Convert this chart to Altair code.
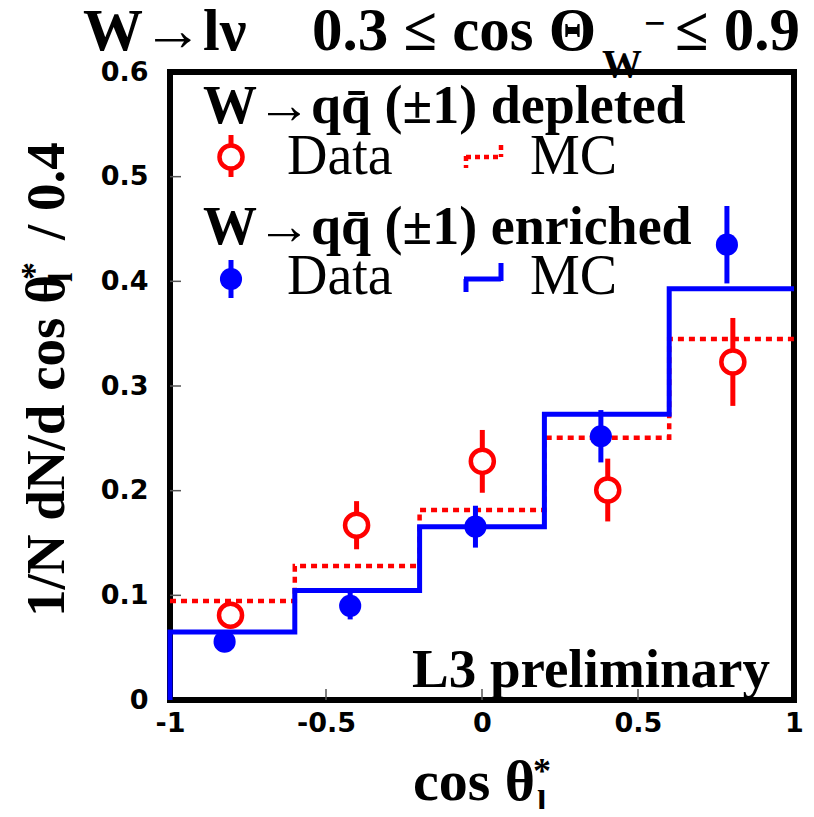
import altair as alt
import pandas as pd

# ---- data ----
bin_edges = [-1.0, -0.6, -0.2, 0.2, 0.6, 1.0]
mc_enriched = [0.065, 0.1045, 0.1656, 0.273, 0.393]
mc_depleted = [0.0946, 0.128, 0.1815, 0.2506, 0.345]

dep_x = [-0.806, -0.402, 0.001, 0.403, 0.804]
dep_y = [0.081, 0.167, 0.228, 0.2006, 0.323]
dep_err = [0.012, 0.023, 0.030, 0.030, 0.042]

enr_x = [-0.825, -0.4225, -0.021, 0.381, 0.785]
enr_y = [0.0557, 0.090, 0.1656, 0.252, 0.435]
enr_err = [0.006, 0.013, 0.020, 0.025, 0.037]

y_ticks = [0.1, 0.2, 0.3, 0.4, 0.5]
x_ticks = [-0.5, 0.0, 0.5]

RED = "#ff0000"
BLUE = "#0000ff"
SERIF = "Liberation Serif"

xs = alt.Scale(domain=[-1, 1], nice=False, zero=False)
ys = alt.Scale(domain=[0, 0.6], nice=False, zero=False)

lab_expr = "datum.value < 0 ? '-' + format(-datum.value, '~g') : format(datum.value, '~g')"
x_axis = alt.Axis(values=[-1, -0.5, 0, 0.5, 1], labelExpr=lab_expr, title=None, labelPadding=10,
                  labelFlush=False)
y_axis = alt.Axis(values=[0, 0.1, 0.2, 0.3, 0.4, 0.5, 0.6], labelExpr=lab_expr, title=None,
                  labelPadding=22, labelFlush=False)

# step histograms
enr_df = pd.DataFrame({
    "i": list(range(len(bin_edges) + 1)),
    "x": [bin_edges[0]] + bin_edges,
    "y": [0.0] + mc_enriched + [mc_enriched[-1]],
})
dep_df = pd.DataFrame({
    "i": list(range(len(bin_edges))),
    "x": bin_edges,
    "y": mc_depleted + [mc_depleted[-1]],
})

enr_line = alt.Chart(enr_df).mark_line(interpolate="step-after", color=BLUE, strokeWidth=5).encode(
    x=alt.X("x:Q", scale=xs, axis=x_axis),
    y=alt.Y("y:Q", scale=ys, axis=y_axis),
    order="i:Q",
)
dep_line = alt.Chart(dep_df).mark_line(interpolate="step-after", color=RED, strokeWidth=4.5,
                                       strokeDash=[6, 5]).encode(
    x=alt.X("x:Q", scale=xs), y=alt.Y("y:Q", scale=ys), order="i:Q",
)

dep_pts = pd.DataFrame({"x": dep_x, "y": dep_y,
                        "lo": [a - b for a, b in zip(dep_y, dep_err)],
                        "hi": [a + b for a, b in zip(dep_y, dep_err)]})
enr_pts = pd.DataFrame({"x": enr_x, "y": enr_y,
                        "lo": [a - b for a, b in zip(enr_y, enr_err)],
                        "hi": [a + b for a, b in zip(enr_y, enr_err)]})

dep_bar = alt.Chart(dep_pts).mark_rule(color=RED, strokeWidth=5).encode(
    x=alt.X("x:Q", scale=xs), y=alt.Y("lo:Q", scale=ys), y2="hi:Q")
dep_dot = alt.Chart(dep_pts).mark_circle(size=531, fill="white", stroke=RED, strokeWidth=4.5,
                                         opacity=1, fillOpacity=1).encode(
    x=alt.X("x:Q", scale=xs), y=alt.Y("y:Q", scale=ys))
enr_bar = alt.Chart(enr_pts).mark_rule(color=BLUE, strokeWidth=5).encode(
    x=alt.X("x:Q", scale=xs), y=alt.Y("lo:Q", scale=ys), y2="hi:Q")
enr_dot = alt.Chart(enr_pts).mark_circle(size=491, color=BLUE, opacity=1).encode(
    x=alt.X("x:Q", scale=xs), y=alt.Y("y:Q", scale=ys))

# inner ticks
ytk = alt.Chart(pd.DataFrame({"v": y_ticks})).mark_rule(color="#555555", strokeWidth=1.5).encode(
    y=alt.Y("v:Q", scale=ys), x=alt.value(0), x2=alt.value(11))
xtk = alt.Chart(pd.DataFrame({"v": x_ticks})).mark_rule(color="#555555", strokeWidth=1.5).encode(
    x=alt.X("v:Q", scale=xs), y=alt.value(617), y2=alt.value(628))

one = alt.Data(values=[{}])


def txt(s, x, y, size, bold=True, align="left", angle=0, color="black", font=SERIF):
    kw = dict(font=font, fontSize=size, fontWeight="bold" if bold else "normal",
              align=align, baseline="alphabetic", color=color)
    if angle:
        kw["angle"] = angle
    return alt.Chart(one).mark_text(**kw).encode(x=alt.value(x), y=alt.value(y), text=alt.value(s))


def sym_rule(x, x2, y, y2, color, dash=None, width=5):
    kw = dict(color=color, strokeWidth=width)
    if dash:
        kw["strokeDash"] = dash
    return alt.Chart(one).mark_rule(**kw).encode(
        x=alt.value(x), x2=alt.value(x2), y=alt.value(y), y2=alt.value(y2))


def sym_dot(x, y, filled, color, size):
    if filled:
        m = alt.Chart(one).mark_circle(size=size, color=color, opacity=1)
    else:
        m = alt.Chart(one).mark_circle(size=size, fill="white", stroke=color, strokeWidth=4.5,
                                       opacity=1, fillOpacity=1)
    return m.encode(x=alt.value(x), y=alt.value(y))


annots = [
    # title
    txt("W→lν", -87, -22, 60),
    txt("0.3 ≤ cos Θ", 142, -22, 61),
    txt("W", 432, 5, 40),
    txt("−", 474, -36, 38),
    txt("≤ 0.9", 630, -22, 61, align="right"),
    # legend
    txt("W→qq\u0304 (±1) depleted", 33, 51, 54),
    sym_rule(61, 61, 63, 105, RED),
    sym_dot(61, 85, False, RED, 531),
    txt("Data", 117, 102, 56, bold=False),
    sym_rule(296, 296, 84, 96, RED, dash=[5, 4], width=4.5),
    sym_rule(296, 331, 85, 85, RED, dash=[5, 4], width=4.5),
    sym_rule(331, 331, 73, 85, RED, dash=[5, 4], width=4.5),
    txt("MC", 360, 102, 56, bold=False),
    txt("W→qq\u0304 (±1) enriched", 33, 172, 54),
    sym_rule(61, 61, 188, 226, BLUE),
    sym_dot(61, 207, True, BLUE, 491),
    txt("Data", 117, 222, 56, bold=False),
    sym_rule(296, 296, 207, 220, BLUE),
    sym_rule(294, 331, 207, 207, BLUE),
    sym_rule(331, 331, 191, 209, BLUE),
    txt("MC", 360, 222, 56, bold=False),
    # L3 label
    txt("L3 preliminary", 600, 615, 55, align="right"),
    # x axis title
    txt("cos θ", 243, 728, 58),
    txt("*", 363, 711, 36),
    txt("l", 367, 742, 34),
    # y axis title
    txt("1/N dN/d cos θ", -106, 545, 55, angle=270),
    txt("l", -98, 210, 34, angle=270),
    txt("*", -124, 208, 36, angle=270),
    txt("/ 0.4", -106, 168, 55, angle=270),
]

chart = alt.layer(ytk, xtk, dep_line, enr_line, dep_bar, enr_bar, dep_dot, enr_dot, *annots).properties(
    width=624, height=628,
    autosize=alt.AutoSizeParams(type="none"),
    padding={"left": 162, "top": 64, "right": 12, "bottom": 109},
).configure_view(stroke="black", strokeWidth=6).configure_axis(
    labelFont="DejaVu Sans", labelFontWeight="bold", labelFontSize=27, labelColor="black",
    ticks=False, domain=False, grid=False,
)

chart.save("out.html", embed_options={"renderer": "svg", "actions": False})
